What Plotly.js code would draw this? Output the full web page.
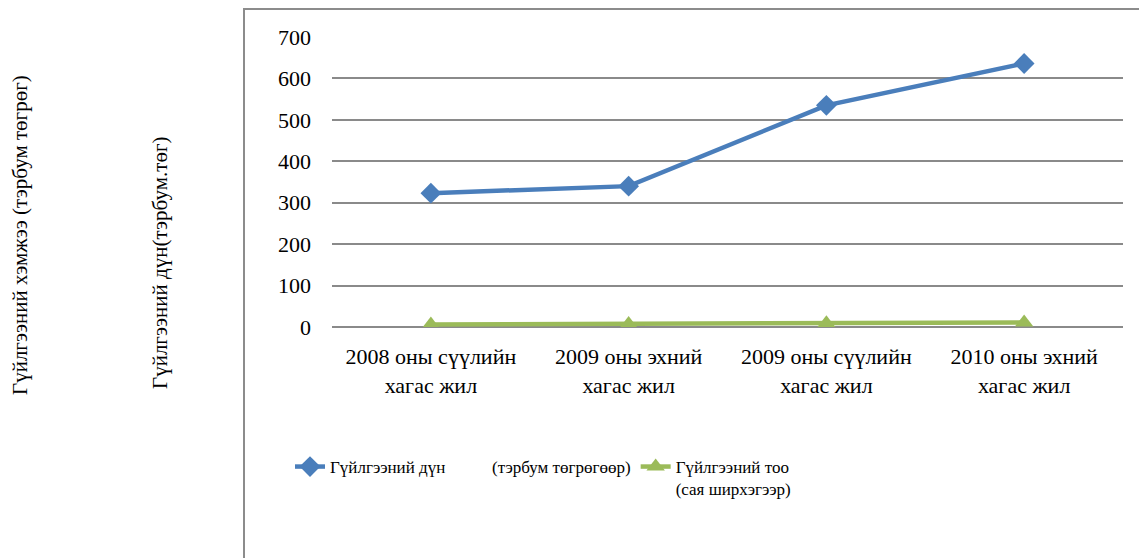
<!DOCTYPE html>
<html>
<head>
<meta charset="utf-8">
<script src="https://cdn.plot.ly/plotly-3.0.1.min.js"></script>
<style>
html,body{margin:0;padding:0;background:#fff;}
#chart{width:1139px;height:558px;}
</style>
</head>
<body>
<div id="chart"></div>
<script>
var categories = [
  "2008 оны сүүлийн<br>хагас жил",
  "2009 оны эхний<br>хагас жил",
  "2009 оны сүүлийн<br>хагас жил",
  "2010 оны эхний<br>хагас жил"
];
var amountValues = [323, 340, 535, 636];
var countValues = [6, 7, 9, 11];
var amountName = "Гүйлгээний дүн" + "\u00a0".repeat(11) + "(тэрбум төгрөгөөр)";
var countName = "Гүйлгээний тоо<br>(сая ширхэгээр)";
var yTickValues = [0, 100, 200, 300, 400, 500, 600, 700];
var outerTitle = "Гүйлгээний хэмжээ (тэрбум төгрөг)";
var innerTitle = "Гүйлгээний дүн(тэрбум.төг)";

var serifFamily = "Liberation Serif, serif";
var L = 332, R = 16, T = 37, B = 231;
var W = 1139, H = 558;
var pw = W - L - R, ph = H - T - B;
function px(x) { return (x - L) / pw; }
function py(y) { return (H - B - y) / ph; }

var traces = [
  {
    x: categories, y: amountValues, name: amountName, type: "scatter", mode: "lines+markers",
    line: {color: "#4a7ebb", width: 4.5},
    marker: {symbol: "diamond", size: 16, color: "#4a7ebb"}
  },
  {
    x: categories, y: countValues, name: countName, type: "scatter", mode: "lines+markers",
    line: {color: "#9bbb59", width: 4.5},
    marker: {symbol: "triangle-up", size: 16, color: "#9bbb59"}
  }
];

var layout = {
  width: W, height: H,
  margin: {l: L, r: R, t: T, b: B, pad: 0},
  paper_bgcolor: "#ffffff", plot_bgcolor: "#ffffff",
  font: {family: serifFamily, color: "#000000", size: 22},
  showlegend: true,
  legend: {
    orientation: "h", x: px(290), y: py(449), xanchor: "left", yanchor: "top",
    font: {family: serifFamily, size: 17, color: "#000000"},
    valign: "top", itemwidth: 30, tracegroupgap: 0, bgcolor: "rgba(0,0,0,0)"
  },
  xaxis: {
    type: "category", range: [-0.5, 3.5], autorange: false,
    showgrid: false, showline: false, ticks: "", ticklabelstandoff: 14,
    tickfont: {family: serifFamily, size: 22, color: "#000000"},
    zeroline: false, fixedrange: true, automargin: false
  },
  yaxis: {
    range: [0, 700], autorange: false, tickvals: yTickValues, ticktext: yTickValues.map(String),
    showgrid: true, gridcolor: "#8a8a8a", gridwidth: 1.5,
    zeroline: true, zerolinecolor: "#8a8a8a", zerolinewidth: 1.5,
    showline: false, ticks: "", ticklabelstandoff: 20,
    tickfont: {family: serifFamily, size: 22, color: "#000000"},
    fixedrange: true, automargin: false
  },
  shapes: [
    {type: "rect", xref: "paper", yref: "paper",
     x0: px(244), x1: px(1160), y0: py(580), y1: py(9),
     line: {color: "#8c8c8c", width: 2}, fillcolor: "rgba(0,0,0,0)", layer: "below"}
  ],
  annotations: [
    {text: outerTitle, xref: "paper", yref: "paper", x: px(20), y: py(235),
     xanchor: "center", yanchor: "middle", textangle: -90, showarrow: false,
     font: {family: serifFamily, size: 21, color: "#000000"}},
    {text: innerTitle, xref: "paper", yref: "paper", x: px(160), y: py(263),
     xanchor: "center", yanchor: "middle", textangle: -90, showarrow: false,
     font: {family: serifFamily, size: 21, color: "#000000"}}
  ]
};

Plotly.newPlot("chart", traces, layout, {displayModeBar: false});
</script>
</body>
</html>
